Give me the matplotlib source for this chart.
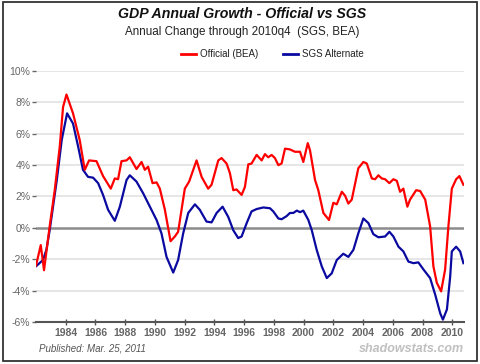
import matplotlib
matplotlib.use("Agg")
import matplotlib.pyplot as plt
from matplotlib.patches import Rectangle

plt.rcParams["font.family"] = ["Liberation Sans", "DejaVu Sans"]

# Official (BEA) annual growth, %
bea_t = [1982.0, 1982.32, 1982.54, 1982.92, 1983.26, 1983.6, 1983.82, 1984.05,
         1984.49, 1984.94, 1985.28, 1985.57, 1986.07, 1986.51, 1987.03, 1987.3,
         1987.52, 1987.75, 1988.09, 1988.31, 1988.76, 1989.1, 1989.32, 1989.54,
         1989.84, 1990.11, 1990.33, 1990.67, 1991.05, 1991.34, 1991.56, 1992.01,
         1992.3, 1992.8, 1993.14, 1993.58, 1993.81, 1994.26, 1994.48, 1994.82,
         1995.04, 1995.27, 1995.49, 1995.83, 1996.05, 1996.28, 1996.5, 1996.84,
         1997.18, 1997.4, 1997.62, 1997.85, 1998.07, 1998.3, 1998.52, 1998.75,
         1999.08, 1999.42, 1999.76, 1999.98, 2000.28, 2000.43, 2000.77, 2000.99,
         2001.33, 2001.71, 2002.0, 2002.23, 2002.57, 2002.79, 2003.01, 2003.24,
         2003.68, 2004.02, 2004.25, 2004.59, 2004.81, 2005.03, 2005.26, 2005.48,
         2005.77, 2006.04, 2006.27, 2006.49, 2006.71, 2006.98, 2007.16, 2007.57,
         2007.84, 2008.18, 2008.51, 2008.73, 2008.96, 2009.25, 2009.52, 2009.74,
         2009.97, 2010.26, 2010.48, 2010.75]
bea = [-2.4, -1.1, -2.7, 0.1, 2.4, 5.2, 7.7, 8.5,
       7.3, 5.6, 3.7, 4.3, 4.25, 3.3, 2.5, 3.15,
       3.1, 4.25, 4.3, 4.5, 3.75, 4.2, 3.7, 3.9,
       2.85, 2.9, 2.5, 1.15, -0.85, -0.55, -0.25, 2.5,
       2.95, 4.3, 3.25, 2.5, 2.75, 4.3, 4.45, 4.1,
       3.5, 2.4, 2.45, 2.1, 2.6, 4.05, 4.1, 4.65,
       4.3, 4.7, 4.5, 4.65, 4.45, 4.0, 4.1, 5.05,
       5.0, 4.85, 4.85, 4.2, 5.4, 4.95, 3.05, 2.4,
       0.95, 0.5, 1.6, 1.5, 2.3, 2.05, 1.55, 1.8,
       3.8, 4.2, 4.1, 3.15, 3.1, 3.35, 3.15, 3.1,
       2.85, 3.1, 3.0, 2.3, 2.5, 1.35, 1.8, 2.4,
       2.35, 1.8, 0.1, -2.45, -3.5, -4.05, -2.65, 0.1,
       2.5, 3.1, 3.3, 2.75]

# SGS Alternate annual growth, %
sgs_t = [1982.0, 1982.47, 1982.7, 1982.92, 1983.4, 1983.73, 1984.09, 1984.49,
         1984.83, 1985.16, 1985.5, 1985.84, 1986.18, 1986.51, 1986.85, 1987.3,
         1987.64, 1988.09, 1988.31, 1988.76, 1989.21, 1989.66, 1990.11, 1990.44,
         1990.78, 1991.23, 1991.56, 1991.9, 1992.24, 1992.69, 1993.02, 1993.47,
         1993.81, 1994.15, 1994.55, 1994.93, 1995.27, 1995.6, 1995.83, 1996.17,
         1996.5, 1996.84, 1997.29, 1997.74, 1997.96, 1998.3, 1998.52, 1998.86,
         1999.08, 1999.31, 1999.54, 1999.76, 1999.98, 2000.32, 2000.55, 2000.88,
         2001.22, 2001.56, 2001.89, 2002.23, 2002.67, 2003.01, 2003.35, 2003.68,
         2004.02, 2004.36, 2004.69, 2005.03, 2005.48, 2005.77, 2006.04, 2006.38,
         2006.71, 2007.05, 2007.39, 2007.72, 2008.06, 2008.51, 2008.85, 2009.19,
         2009.37, 2009.64, 2009.86, 2009.97, 2010.26, 2010.53, 2010.75]
sgs = [-2.45, -2.05, -1.4, -0.15, 3.05, 5.6, 7.3, 6.65,
       5.2, 3.7, 3.25, 3.2, 2.85, 2.1, 1.15, 0.45,
       1.35, 3.05, 3.35, 2.95, 2.2, 1.35, 0.5, -0.35,
       -1.85, -2.85, -2.05, -0.35, 0.95, 1.5, 1.15, 0.4,
       0.35, 0.95, 1.35, 0.7, -0.15, -0.65, -0.55, 0.3,
       1.05, 1.2, 1.3, 1.25, 1.05, 0.6, 0.55, 0.75,
       0.95, 0.95, 1.1, 1.0, 1.1, 0.5, -0.15, -1.4,
       -2.45, -3.2, -2.9, -2.05, -1.65, -1.85, -1.4, -0.35,
       0.6, 0.3, -0.4, -0.6, -0.55, -0.25, -0.55, -1.2,
       -1.5, -2.15, -2.25, -2.2, -2.65, -3.2, -4.25, -5.45,
       -5.85, -5.2, -3.1, -1.5, -1.2, -1.5, -2.25]

years = list(range(1984, 2011, 2))
yticks = [-6, -4, -2, 0, 2, 4, 6, 8, 10]

fig = plt.figure(figsize=(4.8, 3.64), dpi=100)

# outer frame
fig.patches.append(Rectangle((0.0063, 0.0082), 0.9875, 0.986, transform=fig.transFigure,
                             facecolor="white", edgecolor="#333333", linewidth=1.3, zorder=-1))

ax = fig.add_axes([0.075, 0.1154, 0.892, 0.6896])
ax.set_facecolor("none")

for v in yticks:
    if v not in (0, -6):
        ax.axhline(v, color="#e2e2e2", linewidth=1.2, zorder=0)
ax.axhline(0, color="#8c8c8c", linewidth=1.8, zorder=1)

ax.plot(bea_t, bea, color="#ff0000", linewidth=1.6, zorder=3)
ax.plot(sgs_t, sgs, color="#0a0aa0", linewidth=1.6, zorder=2)

ax.set_xlim(1982, 2010.8)
ax.set_ylim(-6, 10)

for side in ["left", "right", "top"]:
    ax.spines[side].set_visible(False)
ax.spines["bottom"].set_color("#555555")
ax.spines["bottom"].set_linewidth(1.5)

ax.set_yticks(yticks)
ax.set_yticklabels([f"{v}%" for v in yticks])
ax.set_xticks(years)
ax.set_xticklabels([str(y) for y in years], fontweight="bold")
ax.tick_params(axis="y", length=3, width=1, color="#666666", labelcolor="#666666",
               labelsize=7.5, pad=1)
ax.tick_params(axis="x", direction="inout", length=5, width=1, color="#555555",
               labelcolor="#666666", labelsize=7.5, pad=2)

fig.text(0.505, 0.962, "GDP Annual Growth - Official vs SGS", ha="center", va="center",
         fontsize=10.2, fontweight="bold", fontstyle="italic", color="#111111")
fig.text(0.505, 0.912, "Annual Change through 2010q4  (SGS, BEA)", ha="center",
         va="center", fontsize=8.4, color="#222222")

# legend
leg_y = 0.853
fig.lines.append(plt.Line2D([0.377, 0.408], [leg_y, leg_y], transform=fig.transFigure,
                            color="#ff0000", linewidth=2))
fig.text(0.416, leg_y, "Official (BEA)", ha="left", va="center", fontsize=7, color="#222222")
fig.lines.append(plt.Line2D([0.59, 0.621], [leg_y, leg_y], transform=fig.transFigure,
                            color="#0a0aa0", linewidth=2))
fig.text(0.629, leg_y, "SGS Alternate", ha="left", va="center", fontsize=7, color="#222222")

fig.text(0.082, 0.042, "Published: Mar. 25, 2011", ha="left", va="center",
         fontsize=7, fontstyle="italic", color="#555555")
fig.text(0.966, 0.042, "shadowstats.com", ha="right", va="center",
         fontsize=9, fontweight="bold", fontstyle="italic", color="#c0c0c0")

fig.savefig("out.png", dpi=100)
